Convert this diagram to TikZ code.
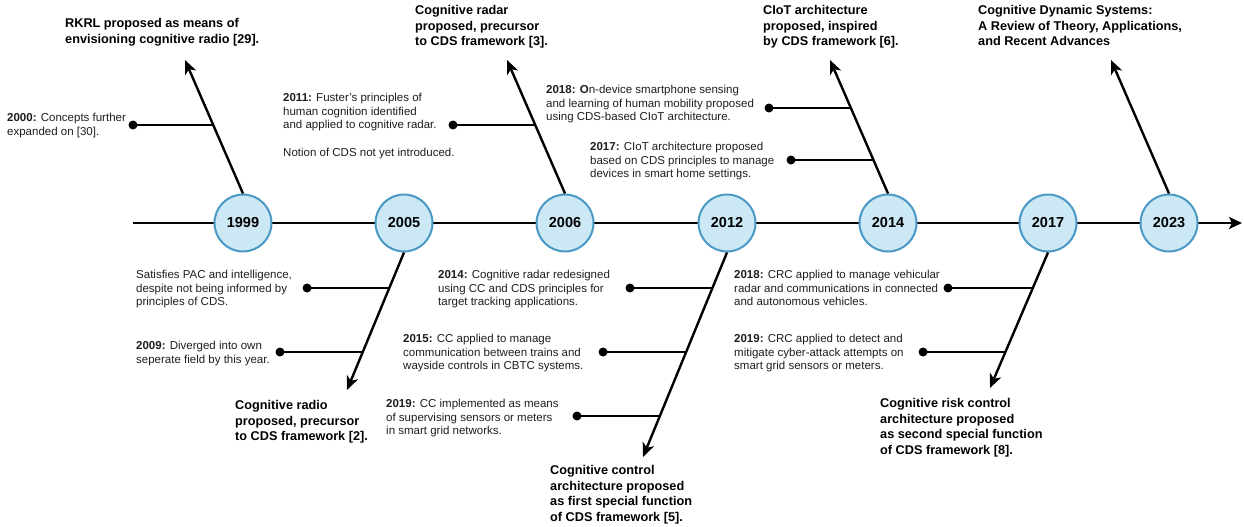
\documentclass[tikz,border=0pt]{standalone}
\usepackage{fontspec}
\setmainfont{Liberation Sans}
\usetikzlibrary{arrows.meta,calc}
\definecolor{yearfill}{RGB}{204,232,245}
\definecolor{yearedge}{RGB}{74,152,196}
\definecolor{inktext}{RGB}{30,30,30}

\begin{document}
\begin{tikzpicture}[x=1pt,y=-1pt,
  year/.style={circle, draw=yearedge, fill=yearfill, line width=2pt,
    minimum size=57pt, inner sep=0pt, font=\fontsize{14.5}{17}\selectfont\bfseries},
  axisline/.style={line width=2.4pt, -{Stealth[length=13pt,width=12pt,inset=3pt]}},
  branch/.style={line width=2.4pt, -{Stealth[length=14pt,width=12pt,inset=4pt]}},
  stub/.style={line width=2.4pt},
  dot/.style={circle, fill=black, inner sep=0pt, minimum size=9pt},
  note/.style={anchor=north west, inner sep=0pt, align=left, text=inktext,
    font=\fontsize{11.5}{13.8}\selectfont},
  head/.style={anchor=north west, inner sep=0pt, align=left,
    font=\fontsize{12.7}{15.5}\selectfont\bfseries},
]
\useasboundingbox (0,0) rectangle (1244,527);

% main time axis
\coordinate (tl0) at (133,223);
\coordinate (tl1) at (1242,223);
\draw[axisline] (tl0) -- (tl1);

% milestone years
\node[year] (c1999) at (243,223) {1999};
\node[year] (c2005) at (404,223) {2005};
\node[year] (c2006) at (565,223) {2006};
\node[year] (c2012) at (727,223) {2012};
\node[year] (c2014) at (888,223) {2014};
\node[year] (c2017) at (1048,223) {2017};
\node[year] (c2023) at (1169,223) {2023};

% branch ends
\coordinate (t1999) at (185,60);
\coordinate (t2006) at (507,60);
\coordinate (t2014) at (830,60);
\coordinate (t2023) at (1111,60);
\coordinate (t2005) at (347,390);
\coordinate (t2012) at (643,457);
\coordinate (t2017) at (990,388);

\draw[branch] (c1999.north) -- (t1999);
\draw[branch] (c2006.north) -- (t2006);
\draw[branch] (c2014.north) -- (t2014);
\draw[branch] (c2023.north) -- (t2023);
\draw[branch] (c2005.south) -- (t2005);
\draw[branch] (c2012.south) -- (t2012);
\draw[branch] (c2017.south) -- (t2017);

% points where the side events meet their branch
\coordinate (j2000)  at ($(c1999.north)!0.511!(t1999)$);
\coordinate (j2011)  at ($(c2006.north)!0.511!(t2006)$);
\coordinate (j2018a) at ($(c2014.north)!0.639!(t2014)$);
\coordinate (j2017a) at ($(c2014.north)!0.248!(t2014)$);
\coordinate (jSat)   at ($(c2005.south)!0.255!(t2005)$);
\coordinate (j2009)  at ($(c2005.south)!0.723!(t2005)$);
\coordinate (j2014b) at ($(c2012.south)!0.172!(t2012)$);
\coordinate (j2015)  at ($(c2012.south)!0.485!(t2012)$);
\coordinate (j2019a) at ($(c2012.south)!0.799!(t2012)$);
\coordinate (j2018b) at ($(c2017.south)!0.259!(t2017)$);
\coordinate (j2019b) at ($(c2017.south)!0.733!(t2017)$);

% side event markers
\node[dot] (d2000)  at (133,125) {};
\node[dot] (d2011)  at (453,125) {};
\node[dot] (d2018a) at (769,108) {};
\node[dot] (d2017a) at (791,160) {};
\node[dot] (dSat)   at (307,288) {};
\node[dot] (d2009)  at (280,352) {};
\node[dot] (d2014b) at (630,288) {};
\node[dot] (d2015)  at (603,352) {};
\node[dot] (d2019a) at (577,416) {};
\node[dot] (d2018b) at (948,288) {};
\node[dot] (d2019b) at (923,352) {};

\foreach \e in {2000,2011,2018a,2017a,Sat,2009,2014b,2015,2019a,2018b,2019b}
  \draw[stub] (d\e.center) -- (d\e.center -| j\e);

% milestone headings
\node[head] (h1999) at (65,18.3) {RKRL proposed as means of\\envisioning cognitive radio [29].};
\node[head] (h2006) at (415,5.3) {Cognitive radar\\proposed, precursor\\to CDS framework [3].};
\node[head] (h2014) at (763,5.3) {CIoT architecture\\proposed, inspired\\by CDS framework [6].};
\node[head] (h2023) at (978,5.3) {Cognitive Dynamic Systems:\\A Review of Theory, Applications,\\and Recent Advances};
\node[head] (h2005) at (235,400.3) {Cognitive radio\\proposed, precursor\\to CDS framework [2].};
\node[head] (h2012) at (550,465.3) {Cognitive control\\architecture proposed\\as first special function\\of CDS framework [5].};
\node[head] (h2017) at (880,398.3) {Cognitive risk control\\architecture proposed\\as second special function\\of CDS framework [8].};

% side event texts
\node[note] (n2000) at (7,112.7) {\textbf{2000:} Concepts further\\expanded on [30].};
\node[note] (n2011) at (283,92.7) {\textbf{2011:} Fuster's principles of\\human cognition identified\\and applied to cognitive radar.\\[13.8pt]Notion of CDS not yet introduced.};
\node[note] (n2018a) at (546,84.7) {\textbf{2018: O}n-device smartphone sensing\\and learning of human mobility proposed\\using CDS-based CIoT architecture.};
\node[note] (n2017a) at (590,141.7) {\textbf{2017:} CIoT architecture proposed\\based on CDS principles to manage\\devices in smart home settings.};
\node[note] (nSat) at (136,269.7) {Satisfies PAC and intelligence,\\despite not being informed by\\principles of CDS.};
\node[note] (n2009) at (136,340.7) {\textbf{2009:} Diverged into own\\seperate field by this year.};
\node[note] (n2014b) at (438,269.7) {\textbf{2014:} Cognitive radar redesigned\\using CC and CDS principles for\\target tracking applications.};
\node[note] (n2015) at (403,333.7) {\textbf{2015:} CC applied to manage\\communication between trains and\\wayside controls in CBTC systems.};
\node[note] (n2019a) at (386,398.7) {\textbf{2019:} CC implemented as means\\of supervising sensors or meters\\in smart grid networks.};
\node[note] (n2018b) at (734,269.7) {\textbf{2018:} CRC applied to manage vehicular\\radar and communications in connected\\and autonomous vehicles.};
\node[note] (n2019b) at (734,333.7) {\textbf{2019:} CRC applied to detect and\\mitigate cyber-attack attempts on\\smart grid sensors or meters.};
\end{tikzpicture}
\end{document}
